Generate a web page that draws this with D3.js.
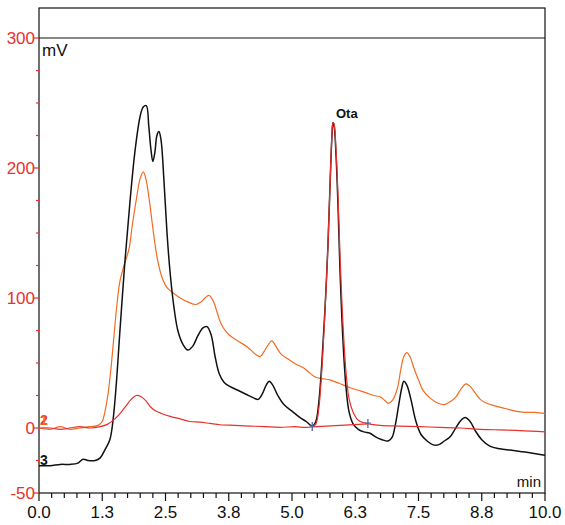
<!DOCTYPE html>
<html>
<head>
<meta charset="utf-8">
<script src="https://cdn.jsdelivr.net/npm/d3@7/dist/d3.min.js"></script>
<style>
  body { margin: 0; background: #fff; }
  svg { font-family: "Liberation Sans", Arial, sans-serif; }
</style>
</head>
<body>
<svg id="chart" width="565" height="525"></svg>
<script>
// time (min) / signal (mV)
var blackT = [0.00,0.22,0.42,0.61,0.77,0.87,0.97,1.11,1.21,1.30,1.40,1.46,1.52,1.60,1.70,1.80,1.90,2.00,2.06,2.12,2.17,2.21,2.25,2.29,2.33,2.37,2.41,2.47,2.53,2.59,2.67,2.75,2.85,2.94,3.04,3.14,3.24,3.32,3.40,3.48,3.56,3.66,3.77,3.93,4.09,4.25,4.33,4.41,4.49,4.55,4.62,4.72,4.84,5.00,5.16,5.28,5.40,5.47,5.53,5.59,5.65,5.71,5.75,5.79,5.81,5.83,5.87,5.91,5.95,6.01,6.07,6.13,6.21,6.31,6.42,6.54,6.66,6.78,6.90,6.98,7.04,7.11,7.17,7.21,7.27,7.35,7.45,7.55,7.67,7.79,7.89,8.01,8.12,8.22,8.32,8.42,8.52,8.62,8.75,8.91,9.11,9.31,9.51,9.70,10.0];
var blackV = [-29,-29,-28,-28,-27,-24,-25,-25,-23,-17,-9,5,30,75,129,175,214,240,247,248,232,215,205,212,225,228,222,190,150,120,92,74,64,60,63,71,77,78,72,55,42,35,32,29,26,23,22,26,33,36,33,25,18,13,8,5,1.5,5,20,50,90,140,185,225,235,233,210,170,120,65,30,12,3,-1,-3,-4,-7,-9,-10,-7,2,18,31,36,33,22,5,-5,-10,-13,-13,-10,-7,-1,5,8,5,-2,-9,-14,-16,-17,-18,-19,-21];

var orangeT = [0.00,0.22,0.42,0.61,0.81,1.01,1.17,1.25,1.30,1.36,1.42,1.48,1.54,1.60,1.68,1.78,1.84,1.92,2.00,2.06,2.11,2.17,2.23,2.29,2.35,2.43,2.53,2.65,2.79,2.94,3.10,3.20,3.28,3.36,3.44,3.52,3.60,3.70,3.81,3.97,4.13,4.27,4.37,4.45,4.53,4.60,4.68,4.78,4.92,5.08,5.24,5.36,5.47,5.59,5.75,5.95,6.15,6.31,6.47,6.62,6.74,6.84,6.90,6.98,7.08,7.15,7.21,7.27,7.33,7.41,7.49,7.59,7.73,7.89,8.01,8.12,8.24,8.34,8.44,8.52,8.62,8.72,8.85,9.01,9.21,9.41,9.60,9.80,10.0];
var orangeV = [0,-1,1,-1,0,1,2,5,12,25,45,70,95,113,125,138,155,175,192,197,192,178,160,142,128,116,108,104,100,97,95,97,100,102,98,89,80,74,70,66,62,57,55,59,64,67,63,57,53,49,46,42,39,38,37,34,31,29,27,25,24,21,19,21,30,45,55,58,55,46,38,29,23,19,18,20,24,30,34,32,27,22,19,17,15,13,12,12,11];

var redT = [0.00,0.22,0.42,0.61,0.81,1.01,1.21,1.36,1.50,1.60,1.72,1.82,1.92,2.02,2.11,2.21,2.31,2.43,2.59,2.79,2.98,3.18,3.38,3.58,3.87,4.17,4.47,4.76,5.06,5.26,5.40,5.47,5.53,5.59,5.65,5.71,5.75,5.79,5.81,5.83,5.87,5.91,5.95,6.01,6.07,6.13,6.21,6.31,6.42,6.54,6.74,7.13,7.53,7.92,8.32,8.72,9.11,9.51,10.0];
var redV = [0,0,-1,0,1,0,1,3,7,11,17,22,25,24,21,16,13,11,9,7,5,4.5,3.5,2.5,2,1.5,1,0.5,1,0.5,1,3,15,45,88,140,185,226,235,234,214,178,132,78,42,22,12,6,4,3,2,1.5,1,0.5,0,-1,-1.5,-2,-3];

// integration baseline of the Ota peak
var baseT = [5.40, 6.50];
var baseV = [0.8, 3.1];

var xTickVals = [0, 1.25, 2.5, 3.75, 5, 6.25, 7.5, 8.75, 10];
var xTickLabels = ["0.0","1.3","2.5","3.8","5.0","6.3","7.5","8.8","10.0"];
var yTickVals = [-50, 0, 100, 200, 300];
var yTickLabels = ["-50","0","100","200","300"];

var svg = d3.select('#chart');
var pLeft = 39, pRight = 545, pTop = 8, pBottom = 493;

var x = d3.scaleLinear().domain([0, 10]).range([pLeft, pRight]);
var y = d3.scaleLinear().domain([-50, 300]).range([pBottom, 38]);

var red = '#e8312c', orange = '#f26b21';

// frame
svg.append('rect')
  .attr('x', pLeft).attr('y', pTop)
  .attr('width', pRight - pLeft).attr('height', pBottom - pTop)
  .attr('fill', 'none').attr('stroke', '#111').attr('stroke-width', 1.2);

svg.append('line')
  .attr('x1', pLeft).attr('x2', pRight)
  .attr('y1', y(300)).attr('y2', y(300))
  .attr('stroke', '#111').attr('stroke-width', 1.2);

// x axis
var xMinor = d3.range(0, 10.001, 0.25);
svg.append('g').selectAll('line')
  .data(xMinor)
  .enter().append('line')
  .attr('x1', d => x(d)).attr('x2', d => x(d))
  .attr('y1', pBottom)
  .attr('y2', d => pBottom + (Math.abs(d / 1.25 - Math.round(d / 1.25)) < 1e-6 ? 8 : 5))
  .attr('stroke', '#111').attr('stroke-width', 1.2);

svg.append('g').selectAll('text')
  .data(xTickVals)
  .enter().append('text')
  .attr('x', d => x(d))
  .attr('y', 518)
  .attr('text-anchor', 'middle')
  .attr('font-size', 17)
  .attr('fill', '#111')
  .text((d, i) => xTickLabels[i]);

// y axis
var yMinor = d3.range(-50, 300.001, 25);
svg.append('g').selectAll('line')
  .data(yMinor)
  .enter().append('line')
  .attr('x1', d => pLeft - (yTickVals.indexOf(d) >= 0 ? 6 : 3))
  .attr('x2', pLeft)
  .attr('y1', d => y(d)).attr('y2', d => y(d))
  .attr('stroke', red).attr('stroke-width', 1.2);

svg.append('g').selectAll('text')
  .data(yTickVals)
  .enter().append('text')
  .attr('x', pLeft - 4)
  .attr('y', d => y(d) + 6)
  .attr('text-anchor', 'end')
  .attr('font-size', 17)
  .attr('fill', red)
  .text((d, i) => yTickLabels[i]);

svg.append('text').attr('x', 42).attr('y', 56)
  .attr('font-size', 17).attr('fill', '#111').text('mV');
svg.append('text').attr('x', 541).attr('y', 487)
  .attr('text-anchor', 'end')
  .attr('font-size', 15).attr('fill', '#111').text('min');

// traces
var line = d3.line()
  .x(d => x(d[0])).y(d => y(d[1]))
  .curve(d3.curveCatmullRom.alpha(0.5));

function trace(ts, vs, color, w) {
  svg.append('path')
    .datum(ts.map((t, i) => [t, vs[i]]))
    .attr('d', line)
    .attr('fill', 'none')
    .attr('stroke', color)
    .attr('stroke-width', w)
    .attr('stroke-linejoin', 'round');
}

trace(orangeT, orangeV, orange, 1.2);
trace(blackT, blackV, '#111', 1.5);
trace(redT, redV, red, 1.2);

// baseline + markers
svg.append('line')
  .attr('x1', x(baseT[0])).attr('y1', y(baseV[0]))
  .attr('x2', x(baseT[1])).attr('y2', y(baseV[1]))
  .attr('stroke', red).attr('stroke-width', 1.2);

baseT.forEach(function (t, i) {
  var px = x(t), py = y(baseV[i]);
  svg.append('line').attr('x1', px).attr('x2', px)
    .attr('y1', py - 5).attr('y2', py + 4)
    .attr('stroke', '#4a64a8').attr('stroke-width', 1.3);
  svg.append('line').attr('x1', px - 3).attr('x2', px + 3)
    .attr('y1', py - 1).attr('y2', py - 1)
    .attr('stroke', '#4a64a8').attr('stroke-width', 1);
});

svg.append('text').attr('x', 336).attr('y', 118)
  .attr('font-size', 13).attr('font-weight', 'bold')
  .attr('fill', '#111').text('Ota');

// trace numbers on the left
svg.append('text').attr('x', 40).attr('y', 425)
  .attr('font-size', 14).attr('font-weight', 'bold')
  .attr('fill', red).text('2');
svg.append('text').attr('x', 40).attr('y', 425)
  .attr('font-size', 14).attr('font-weight', 'bold')
  .attr('fill', orange).attr('opacity', 0.85).text('1');
svg.append('text').attr('x', 40).attr('y', 465)
  .attr('font-size', 14).attr('font-weight', 'bold')
  .attr('fill', '#111').text('3');
</script>
</body>
</html>
